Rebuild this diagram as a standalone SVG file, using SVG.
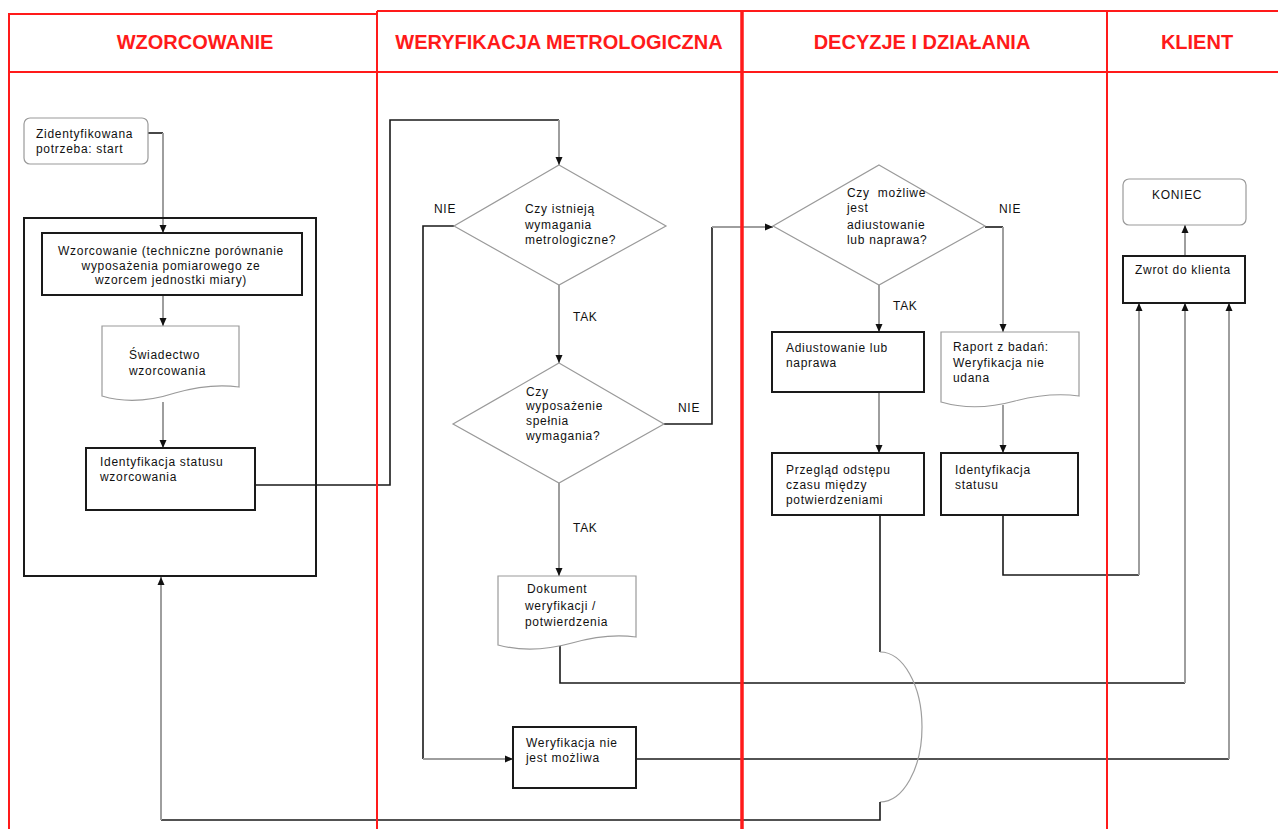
<svg xmlns="http://www.w3.org/2000/svg" width="1278" height="829" viewBox="0 0 1278 829">
<style>
.lane{stroke:#ff1a1a;fill:none}
.hd{font-family:"Liberation Sans",Arial,sans-serif;font-weight:bold;font-size:20px;fill:#ff1a1a;text-anchor:middle}
.t{font-family:"Liberation Sans",Arial,sans-serif;font-size:12px;letter-spacing:0.7px;fill:#111}
.tc{text-anchor:middle}
.box{fill:#fff;stroke:#1a1a1a;stroke-width:2}
.soft{fill:#fff;stroke:#9a9a9a;stroke-width:1.2}
.ln{fill:none;stroke:#1a1a1a;stroke-width:1.6}
.lg{fill:none;stroke:#9e9e9e;stroke-width:2}
</style>
<defs>
<marker id="arr" viewBox="0 0 8 8" refX="8" refY="4" markerWidth="8" markerHeight="8" markerUnits="userSpaceOnUse" orient="auto">
<path d="M0,0.5 L8,4 L0,7.5 Z" fill="#111"/>
</marker>
</defs>
<rect width="1278" height="829" fill="#fff"/>

<g id="connectors">
<path class="ln" d="M148,133 H163"/>
<path class="lg" d="M163,133 V233" marker-end="url(#arr)"/>
<path class="lg" d="M163,295 V326" marker-end="url(#arr)"/>
<path class="lg" d="M163,402 V448" marker-end="url(#arr)"/>
<path class="ln" d="M255,485 H390 V120 H559"/>
<path class="lg" d="M559,120 V165" marker-end="url(#arr)"/>
<path class="ln" d="M454,226 H423 V759"/>
<path class="lg" d="M423,759 H513" marker-end="url(#arr)"/>
<path class="lg" d="M559,285 V363" marker-end="url(#arr)"/>
<path class="ln" d="M664,424 H712 V227"/>
<path class="lg" d="M712,227 H773" marker-end="url(#arr)"/>
<path class="lg" d="M559,483 V576" marker-end="url(#arr)"/>
<path class="ln" d="M560,645 V683 H1185"/>
<path class="lg" d="M1185,683 V303" marker-end="url(#arr)"/>
<path class="ln" d="M636,759 H1229"/>
<path class="lg" d="M1229,759 V303" marker-end="url(#arr)"/>
<path class="lg" d="M879,285 V332" marker-end="url(#arr)"/>
<path class="ln" d="M985,227 H1003"/>
<path class="lg" d="M1003,227 V332" marker-end="url(#arr)"/>
<path class="lg" d="M879,392 V453" marker-end="url(#arr)"/>
<path class="lg" d="M1003,405 V453" marker-end="url(#arr)"/>
<path class="ln" d="M1003,515 V575 H1139"/>
<path class="lg" d="M1139,575 V303" marker-end="url(#arr)"/>
<path class="ln" d="M880,515 V652"/>
<path class="lg" d="M880,652 A42,75 0 0 1 880,802" style="stroke-width:1.2"/>
<path class="ln" d="M880,802 V820 H161"/>
<path class="lg" d="M161,820 V577" marker-end="url(#arr)"/>
<path class="lg" d="M1185,256 V225" marker-end="url(#arr)"/>
</g>

<g id="n-start">
<rect class="soft" x="24" y="118" width="124" height="46" rx="6"/>
<text class="t" x="36" y="138">Zidentyfikowana</text>
<text class="t" x="36" y="153">potrzeba: start</text>
</g>

<g id="n-group-wzorcowanie">
<rect x="24" y="218" width="292" height="358" fill="none" stroke="#1a1a1a" stroke-width="2"/>
</g>

<g id="n-wzorcowanie">
<rect class="box" x="42" y="233" width="260" height="62"/>
<text class="t tc" x="171" y="255">Wzorcowanie (techniczne porównanie</text>
<text class="t tc" x="171" y="270">wyposażenia pomiarowego ze</text>
<text class="t tc" x="171" y="284">wzorcem jednostki miary)</text>
</g>

<g id="n-swiadectwo">
<path class="soft" d="M102,326 H239 V387 Q210,383 175,393 Q135,406 102,396 Z"/>
<text class="t" x="129" y="359">Świadectwo</text>
<text class="t" x="129" y="375">wzorcowania</text>
</g>

<g id="n-identyfikacja1">
<rect class="box" x="86" y="448" width="169" height="62"/>
<text class="t" x="100" y="466">Identyfikacja statusu</text>
<text class="t" x="100" y="481">wzorcowania</text>
</g>

<g id="n-czy-istnieja">
<path class="soft" d="M559,165 L666,226 L559,285 L454,226 Z"/>
<text class="t" x="525" y="213">Czy istnieją</text>
<text class="t" x="525" y="229">wymagania</text>
<text class="t" x="525" y="244">metrologiczne?</text>
<text class="t" x="434" y="213">NIE</text>
<text class="t" x="573" y="321">TAK</text>
</g>

<g id="n-czy-spelnia">
<path class="soft" d="M559,363 L664,424 L559,483 L453,424 Z"/>
<text class="t" x="526" y="396">Czy</text>
<text class="t" x="526" y="410">wyposażenie</text>
<text class="t" x="526" y="425">spełnia</text>
<text class="t" x="526" y="440">wymagania?</text>
<text class="t" x="678" y="412">NIE</text>
<text class="t" x="573" y="532">TAK</text>
</g>

<g id="n-dokument">
<path class="soft" d="M498,576 H636 V637 Q607,633 572,643 Q532,654 498,645 Z"/>
<text class="t" x="527" y="593">Dokument</text>
<text class="t" x="525" y="610">weryfikacji /</text>
<text class="t" x="525" y="626">potwierdzenia</text>
</g>

<g id="n-weryfikacja-niemozliwa">
<rect class="box" x="513" y="727" width="123" height="61"/>
<text class="t" x="526" y="747">Weryfikacja nie</text>
<text class="t" x="526" y="762">jest możliwa</text>
</g>

<g id="n-czy-mozliwe">
<path class="soft" d="M879,165 L985,226 L879,285 L773,226 Z"/>
<text class="t" x="847" y="197" xml:space="preserve">Czy  możliwe</text>
<text class="t" x="847" y="212">jest</text>
<text class="t" x="847" y="229">adiustowanie</text>
<text class="t" x="847" y="244">lub naprawa?</text>
<text class="t" x="999" y="213">NIE</text>
<text class="t" x="893" y="310">TAK</text>
</g>

<g id="n-adiustowanie">
<rect class="box" x="772" y="332" width="152" height="60"/>
<text class="t" x="786" y="352">Adiustowanie lub</text>
<text class="t" x="786" y="367">naprawa</text>
</g>

<g id="n-raport">
<path class="soft" d="M941,332 H1079 V396 Q1050,392 1015,401 Q975,412 941,402 Z"/>
<text class="t" x="953" y="351">Raport z badań:</text>
<text class="t" x="953" y="367">Weryfikacja nie</text>
<text class="t" x="953" y="382">udana</text>
</g>

<g id="n-przeglad">
<rect class="box" x="772" y="453" width="152" height="62"/>
<text class="t" x="786" y="474">Przegląd odstępu</text>
<text class="t" x="786" y="489">czasu między</text>
<text class="t" x="786" y="504">potwierdzeniami</text>
</g>

<g id="n-identyfikacja2">
<rect class="box" x="941" y="453" width="137" height="62"/>
<text class="t" x="955" y="474">Identyfikacja</text>
<text class="t" x="955" y="489">statusu</text>
</g>

<g id="n-koniec">
<rect class="soft" x="1123" y="179" width="123" height="46" rx="6"/>
<text class="t" x="1152" y="199">KONIEC</text>
</g>

<g id="n-zwrot">
<rect class="box" x="1123" y="256" width="122" height="47"/>
<text class="t" x="1135" y="274">Zwrot do klienta</text>
</g>

<g id="lanes">
<path class="lane" stroke-width="2" d="M9,829 V14 H377"/>
<path class="lane" stroke-width="2" d="M377,11 H1278"/>
<path class="lane" stroke-width="2" d="M9,72 H1278"/>
<path class="lane" stroke-width="2" d="M377,11 V829"/>
<path class="lane" stroke-width="3.5" d="M742,11 V829"/>
<path class="lane" stroke-width="2" d="M1107,11 V829"/>
<text class="hd" x="195" y="49">WZORCOWANIE</text>
<text class="hd" x="559" y="49">WERYFIKACJA METROLOGICZNA</text>
<text class="hd" x="922" y="49">DECYZJE I DZIAŁANIA</text>
<text class="hd" x="1197" y="49">KLIENT</text>
</g>
</svg>
